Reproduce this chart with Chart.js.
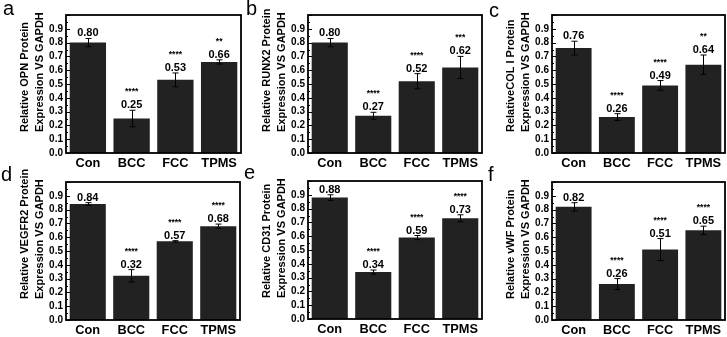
<!DOCTYPE html>
<html>
<head>
<meta charset="utf-8">
<script src="https://cdn.jsdelivr.net/npm/chart.js@4.4.0/dist/chart.umd.min.js"></script>
<style>
html, body { margin: 0; padding: 0; background: #fff; }
body { width: 727px; height: 337px; position: relative; overflow: hidden; font-family: "Liberation Sans", Arial, sans-serif; }
canvas.panel { position: absolute; }
.tag { position: absolute; font-size: 20px; line-height: 1; color: #000; z-index: 2; }
</style>
</head>
<body>
<div class="tag" style="left:3px;top:-2px">a</div>
<div class="tag" style="left:246px;top:-2px">b</div>
<div class="tag" style="left:489px;top:0px">c</div>
<div class="tag" style="left:1px;top:164px">d</div>
<div class="tag" style="left:244px;top:162px">e</div>
<div class="tag" style="left:488px;top:164px">f</div>

<canvas class="panel" id="chartA" width="243" height="168" style="left:0px;top:0px"></canvas>
<canvas class="panel" id="chartB" width="242" height="168" style="left:242px;top:0px"></canvas>
<canvas class="panel" id="chartC" width="241" height="168" style="left:486px;top:0px"></canvas>
<canvas class="panel" id="chartD" width="242" height="168" style="left:0px;top:167px"></canvas>
<canvas class="panel" id="chartE" width="242" height="168" style="left:242px;top:166px"></canvas>
<canvas class="panel" id="chartF" width="241" height="168" style="left:486px;top:167px"></canvas>

<script>
// --- données ---
const categories = ['Con', 'BCC', 'FCC', 'TPMS'];
const yTickLabels = ['0.0', '0.1', '0.2', '0.3', '0.4', '0.5', '0.6', '0.7', '0.8', '0.9'];

const opnMeans = [0.80, 0.25, 0.53, 0.66];
const opnErrors = [0.03, 0.06, 0.05, 0.015];
const opnStars = ['', '****', '****', '**'];

const runx2Means = [0.80, 0.27, 0.52, 0.62];
const runx2Errors = [0.03, 0.025, 0.055, 0.08];
const runx2Stars = ['', '****', '****', '***'];

const col1Means = [0.76, 0.26, 0.49, 0.64];
const col1Errors = [0.05, 0.025, 0.035, 0.07];
const col1Stars = ['', '****', '****', '**'];

const vegfr2Means = [0.84, 0.32, 0.57, 0.68];
const vegfr2Errors = [0.01, 0.045, 0.005, 0.015];
const vegfr2Stars = ['', '****', '****', '****'];

const cd31Means = [0.88, 0.34, 0.59, 0.73];
const cd31Errors = [0.02, 0.015, 0.015, 0.025];
const cd31Stars = ['', '****', '****', '****'];

const vwfMeans = [0.82, 0.26, 0.51, 0.65];
const vwfErrors = [0.03, 0.04, 0.08, 0.03];
const vwfStars = ['', '****', '****', '****'];

const FONT = '"Liberation Sans", Arial, sans-serif';
const BAR_COLOR = '#222222';

// Dessine cadre, graduations, barres d'erreur, valeurs, étoiles et titre Y
const extrasPlugin = {
    id: 'extras',
    afterDatasetsDraw(chart) {
        const opts = chart.options.plugins.extras;
        const { ctx, chartArea: a, scales: { x, y } } = chart;
        ctx.save();

        // graduations internes de l'axe Y
        ctx.strokeStyle = '#000';
        ctx.lineWidth = 1;
        for (let k = 0; k <= 20; k++) {
            const py = Math.round(y.getPixelForValue(k * 0.05)) + 0.5;
            const len = k % 2 === 0 ? 4 : 2;
            ctx.beginPath();
            ctx.moveTo(a.left, py);
            ctx.lineTo(a.left + len, py);
            ctx.stroke();
        }

        // étiquettes de l'axe Y
        ctx.fillStyle = '#000';
        ctx.font = 'bold 10px ' + FONT;
        ctx.textAlign = 'right';
        ctx.textBaseline = 'middle';
        yTickLabels.forEach(lbl => {
            ctx.fillText(lbl, a.left - 3, y.getPixelForValue(parseFloat(lbl)));
        });

        // barres d'erreur
        opts.means.forEach((m, i) => {
            const cx = Math.round(x.getPixelForValue(i)) + 0.5;
            const top = y.getPixelForValue(m + opts.errors[i]);
            const bot = y.getPixelForValue(m - opts.errors[i]);
            ctx.beginPath();
            ctx.moveTo(cx, top);
            ctx.lineTo(cx, bot);
            ctx.moveTo(cx - 3, top);
            ctx.lineTo(cx + 3, top);
            ctx.moveTo(cx - 3, bot);
            ctx.lineTo(cx + 3, bot);
            ctx.stroke();
        });

        // valeurs et étoiles
        ctx.textAlign = 'center';
        ctx.textBaseline = 'alphabetic';
        opts.means.forEach((m, i) => {
            const cx = x.getPixelForValue(i);
            const base = y.getPixelForValue(m + opts.errors[i]) - 2;
            ctx.font = 'bold 11px ' + FONT;
            ctx.fillText(m.toFixed(2), cx, base);
            if (opts.stars[i]) {
                ctx.font = 'bold 8.5px ' + FONT;
                ctx.fillText(opts.stars[i], cx, base - 14);
            }
        });

        // cadre
        ctx.lineWidth = 1.8;
        ctx.strokeRect(a.left, a.top, a.right - a.left, a.bottom - a.top);

        // titre de l'axe Y (deux lignes)
        ctx.translate(a.left - 41, a.bottom - 21);
        ctx.rotate(-Math.PI / 2);
        ctx.textAlign = 'left';
        ctx.textBaseline = 'middle';
        ctx.font = 'bold 11px ' + FONT;
        ctx.fillText(opts.title[0], 0, 0);
        ctx.fillText(opts.title[1], 0, 15);
        ctx.restore();
    }
};

function makePanel(id, means, errors, stars, title) {
    const ctx = document.getElementById(id).getContext('2d');
    return new Chart(ctx, {
        type: 'bar',
        data: {
            labels: categories,
            datasets: [{
                data: means,
                backgroundColor: BAR_COLOR,
                borderWidth: 0,
                barPercentage: 0.83,
                categoryPercentage: 1.0
            }]
        },
        options: {
            responsive: false,
            animation: false,
            devicePixelRatio: 1,
            layout: { padding: { top: 15, right: 2, left: 0, bottom: 0 } },
            plugins: {
                legend: { display: false },
                tooltip: { enabled: false },
                extras: { means: means, errors: errors, stars: stars, title: title }
            },
            scales: {
                x: {
                    grid: { display: false, drawTicks: false },
                    border: { display: false },
                    ticks: { color: '#000', padding: 3, font: { family: FONT, size: 12.8, weight: 'bold' } },
                    afterFit(scale) { scale.height = 15; }
                },
                y: {
                    min: 0,
                    max: 1,
                    grid: { display: false, drawTicks: false },
                    border: { display: false },
                    ticks: { display: false, stepSize: 0.1 },
                    afterFit(scale) { scale.width = 66; }
                }
            }
        },
        plugins: [extrasPlugin]
    });
}

makePanel('chartA', opnMeans, opnErrors, opnStars, ['Relative OPN Protein', 'Expression VS GAPDH']);
makePanel('chartB', runx2Means, runx2Errors, runx2Stars, ['Relative RUNX2 Protein', 'Expression VS GAPDH']);
makePanel('chartC', col1Means, col1Errors, col1Stars, ['RelativeCOL I Protein', 'Expression VS GAPDH']);
makePanel('chartD', vegfr2Means, vegfr2Errors, vegfr2Stars, ['Relative VEGFR2 Protein', 'Expression VS GAPDH']);
makePanel('chartE', cd31Means, cd31Errors, cd31Stars, ['Relative CD31 Protein', 'Expression VS GAPDH']);
makePanel('chartF', vwfMeans, vwfErrors, vwfStars, ['Relative vWF Protein', 'Expression VS GAPDH']);
</script>
</body>
</html>
